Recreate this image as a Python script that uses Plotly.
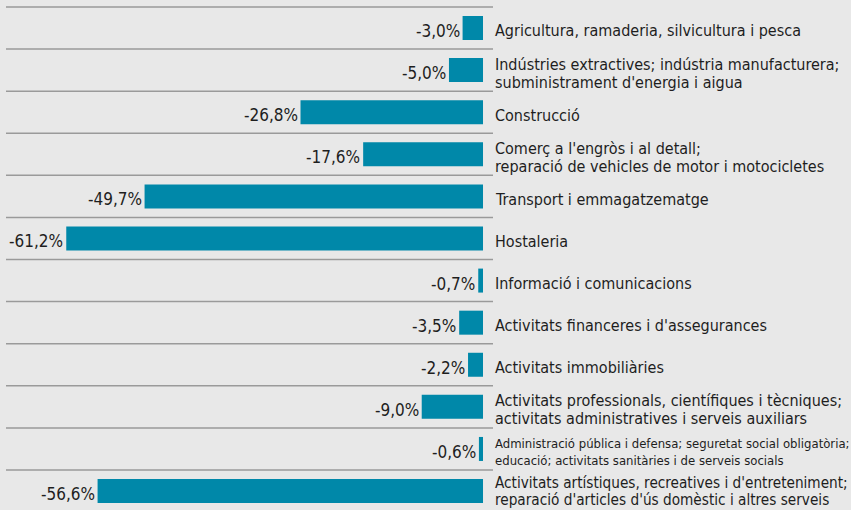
import plotly.graph_objects as go

categories = [
    "Agricultura, ramaderia, silvicultura i pesca",
    "Indústries extractives; indústria manufacturera;<br>subministrament d'energia i aigua",
    "Construcció",
    "Comerç a l'engròs i al detall;<br>reparació de vehicles de motor i motocicletes",
    "Transport i emmagatzematge",
    "Hostaleria",
    "Informació i comunicacions",
    "Activitats financeres i d'assegurances",
    "Activitats immobiliàries",
    "Activitats professionals, científiques i tècniques;<br>activitats administratives i serveis auxiliars",
    "Administració pública i defensa; seguretat social obligatòria;<br>educació; activitats sanitàries i de serveis socials",
    "Activitats artístiques, recreatives i d'entreteniment;<br>reparació d'articles d'ús domèstic i altres serveis",
]
values = [-3.0, -5.0, -26.8, -17.6, -49.7, -61.2, -0.7, -3.5, -2.2, -9.0, -0.6, -56.6]
value_labels = ["-3,0%", "-5,0%", "-26,8%", "-17,6%", "-49,7%", "-61,2%",
                "-0,7%", "-3,5%", "-2,2%", "-9,0%", "-0,6%", "-56,6%"]
label_sizes = [16, 16, 16, 16, 16, 16, 16, 16, 16, 16, 13, 15.2]

FONT = "Liberation Sans Narrow, DejaVu Sans Condensed, Roboto Condensed, Liberation Sans, sans-serif"
BAR = "#0088a9"
TXT = "#1e1e1e"
idx = list(range(len(categories)))

fig = go.Figure()
fig.add_trace(go.Bar(
    x=values, y=idx, orientation="h", width=0.57,
    marker=dict(color=BAR, line=dict(width=0)),
    hoverinfo="skip",
))

annotations = []
last = len(categories) - 1
for i, (v, lab, cat, fs) in enumerate(zip(values, value_labels, categories, label_sizes)):
    annotations.append(dict(x=v, y=i, xref="x", yref="y", text=lab, showarrow=False,
                            xanchor="right", yanchor="middle", xshift=-1, yshift=-3,
                            font=dict(family=FONT, size=17, color=TXT)))
    lines = cat.split("<br>")
    sp = 18 if fs == 16 else 17
    base = -3 if i != last else 0
    n = len(lines)
    for k, ln in enumerate(lines):
        off = (k - (n - 1) / 2) * sp
        annotations.append(dict(x=0, y=i, xref="x", yref="y", text=ln, showarrow=False,
                                xanchor="left", yanchor="middle", xshift=10, yshift=base - off,
                                font=dict(family=FONT, size=fs, color=TXT)))

shapes = []
for i in idx:
    shapes.append(dict(type="line", xref="paper", yref="y", x0=6 / 851, x1=493 / 851,
                       y0=i - 0.5, y1=i - 0.5, line=dict(color="#9a9a9a", width=1.5)))

fig.update_layout(
    width=851, height=510,
    margin=dict(l=0, r=0, t=0, b=0),
    paper_bgcolor="#e8e8e8", plot_bgcolor="#e8e8e8",
    showlegend=False,
    xaxis=dict(range=[-70.93, 54.04], visible=False, showgrid=False, zeroline=False, fixedrange=True),
    yaxis=dict(range=[11.45, -0.665], visible=False, showgrid=False, zeroline=False, fixedrange=True),
    annotations=annotations, shapes=shapes,
    font=dict(family=FONT),
)

fig.write_html("out.html", config={"displayModeBar": False},
               post_script="document.body.style.margin='0';document.body.style.overflow='hidden';")
